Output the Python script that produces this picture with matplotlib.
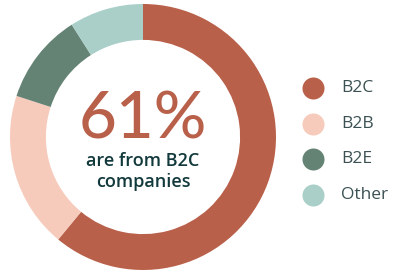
import matplotlib
matplotlib.use("Agg")
import matplotlib.pyplot as plt

labels = ["B2C", "B2B", "B2E", "Other"]
shares = [61, 19, 11, 9]
colors = ["#B9604A", "#F6CBBB", "#658374", "#A9CFC8"]
headline = "61%"
subline = "are from B2C\ncompanies"

W, H = 398, 275
fig = plt.figure(figsize=(W / 100, H / 100), dpi=100)

# donut
ax = fig.add_axes([10 / W, 5 / H, 266 / W, 266 / H])
ax.pie(
    shares,
    colors=colors,
    startangle=90,
    counterclock=False,
    radius=1.0,
    wedgeprops=dict(width=0.27, linewidth=0),
)
ax.set_xlim(-1, 1)
ax.set_ylim(-1, 1)
ax.set_aspect("equal")
ax.axis("off")

ax.text(0, 0.13, headline, ha="center", va="center", fontsize=47,
        color=colors[0], family="Lato", weight="medium")
ax.text(0, -0.26, subline, ha="center", va="center", fontsize=13,
        color="#12393B", family="Open Sans", weight="semibold",
        linespacing=1.2)

# legend drawn by hand on an overlay in pixel units
lg = fig.add_axes([0, 0, 1, 1])
lg.set_xlim(0, W)
lg.set_ylim(H, 0)
lg.axis("off")
for i, (lab, col) in enumerate(zip(labels, colors)):
    y = 88 + i * 35.7
    lg.scatter([313], [y], s=22 ** 2 * 0.52, color=col, linewidths=0)
    lg.text(341, y, lab, ha="left", va="center", fontsize=12.5,
            color="#3C5153", family="Open Sans")

fig.savefig("out.png", dpi=100)
